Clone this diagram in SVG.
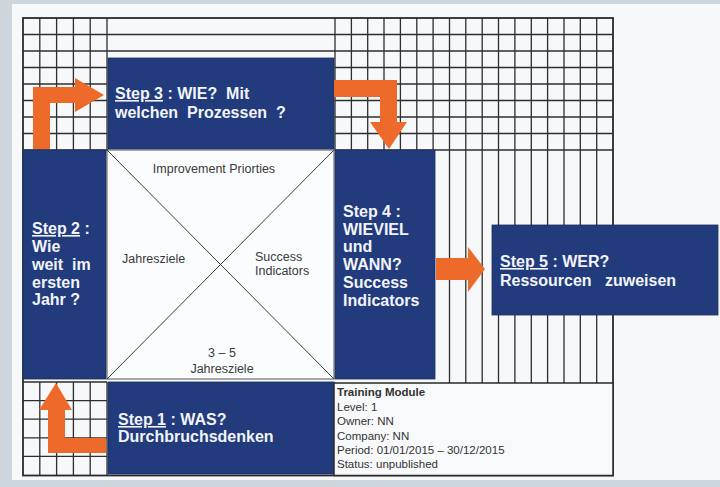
<svg xmlns="http://www.w3.org/2000/svg" width="720" height="487" viewBox="0 0 720 487">
<style>
.grid{fill:none;stroke:#2e2e2e;stroke-width:1.3}
.frame{fill:none;stroke:#2a2a2a;stroke-width:1.8}
.box{fill:#223b7c;stroke:#1a2d60;stroke-width:0.8}
.st{font-family:"Liberation Sans",Arial,sans-serif;font-weight:bold;font-size:16px;fill:#f2f4fa;white-space:pre}
.u{text-decoration:underline}
.lbl{font-family:"Liberation Sans",Arial,sans-serif;font-size:12.5px;fill:#3a3a3a}
.inf{font-family:"Liberation Sans",Arial,sans-serif;font-size:11.5px;fill:#333}
.arrow{fill:#ee6a2a}
</style>
<rect x="0" y="0" width="720" height="487" fill="#cdd6dd"/>
<rect x="12" y="4" width="708" height="476" fill="#f6f8fa"/>

<g id="grid">
  <!-- top-left grid -->
  <path class="grid" d="M23,34.5H107M23,51H107M23,67.5H107M23,84H107M23,100.5H107M23,117H107M23,133.5H107M23,150H107
  M39.8,18V150M56.6,18V150M73.4,18V150M90.2,18V150M107,18V150"/>
  <!-- top-middle rows -->
  <path class="grid" d="M107,34.5H335M107,51H335"/>
  <!-- top-right grid -->
  <path class="grid" d="M335,34.5H613M335,51H613M335,67.5H613M335,84H613M335,100.5H613M335,117H613M335,133.5H613M335,150H613
  M335,18V150M351.4,18V150M367.7,18V150M384,18V150M400.4,18V150M416.8,18V150M433.1,18V150M449.5,18V383M465.8,18V383M482.2,18V383M498.5,18V383M514.9,18V383M531.3,18V383M547.6,18V383M564,18V383M580.3,18V383M596.7,18V383"/>
  <!-- bottom-left grid -->
  <path class="grid" d="M23,382H107M23,400.6H107M23,419.2H107M23,437.8H107M23,456.4H107
  M39.8,382V475M56.6,382V475M73.4,382V475M90.2,382V475M107,382V475"/>
  <rect class="frame" x="23" y="18" width="590" height="457.5"/>
</g>

<g id="step3">
  <rect class="box" x="108" y="58" width="226" height="91"/>
  <text class="st" x="115" y="99"><tspan class="u">Step 3</tspan> : WIE?  Mit</text>
  <text class="st" x="115" y="118">welchen  Prozessen  ?</text>
</g>

<g id="step2">
  <rect class="box" x="23" y="150" width="83" height="229"/>
  <text class="st" x="32" y="234"><tspan class="u">Step 2</tspan> :</text>
  <text class="st" x="32" y="252">Wie</text>
  <text class="st" x="32" y="270">weit  im</text>
  <text class="st" x="32" y="288">ersten</text>
  <text class="st" x="32" y="305">Jahr ?</text>
</g>

<g id="center">
  <rect x="107" y="150" width="227" height="229" fill="#fbfcfd" stroke="#555" stroke-width="1"/>
  <path d="M107,150L334,379M334,150L107,379" stroke="#3c3c3c" stroke-width="1" fill="none"/>
  <text class="lbl" x="214" y="173" text-anchor="middle">Improvement Priorties</text>
  <text class="lbl" x="122" y="263">Jahresziele</text>
  <text class="lbl" x="255" y="261">Success</text>
  <text class="lbl" x="255" y="275">Indicators</text>
  <text class="lbl" x="222" y="357" text-anchor="middle">3 – 5</text>
  <text class="lbl" x="222" y="373" text-anchor="middle">Jahresziele</text>
</g>

<g id="step4">
  <rect class="box" x="335" y="150" width="100" height="229"/>
  <text class="st" x="343" y="217">Step 4 :</text>
  <text class="st" x="343" y="235">WIEVIEL</text>
  <text class="st" x="343" y="252">und</text>
  <text class="st" x="343" y="270">WANN?</text>
  <text class="st" x="343" y="288">Success</text>
  <text class="st" x="343" y="306">Indicators</text>
</g>

<g id="step5">
  <rect class="box" x="492" y="225" width="226" height="90"/>
  <text class="st" x="500" y="267"><tspan class="u">Step 5</tspan> : WER?</text>
  <text class="st" x="500" y="286">Ressourcen   zuweisen</text>
</g>

<g id="step1">
  <rect class="box" x="108" y="382" width="226" height="92"/>
  <text class="st" x="118" y="425"><tspan class="u">Step 1</tspan> : WAS?</text>
  <text class="st" x="118" y="442">Durchbruchsdenken</text>
</g>

<g id="info">
  <rect x="334" y="383" width="279" height="92.5" fill="#f8f9fb" stroke="#2a2a2a" stroke-width="1.5"/>
  <text class="inf" x="337" y="396" font-weight="bold" font-size="12">Training Module</text>
  <text class="inf" x="337" y="411">Level: 1</text>
  <text class="inf" x="337" y="425">Owner: NN</text>
  <text class="inf" x="337" y="440">Company: NN</text>
  <text class="inf" x="337" y="454">Period: 01/01/2015 – 30/12/2015</text>
  <text class="inf" x="337" y="468">Status: unpublished</text>
</g>

<g id="connectors">
  <polygon class="arrow" points="33,149 33,87 75,87 75,78 104,95 75,112 75,103 50,103 50,149"/>
  <polygon class="arrow" points="334,80 397,80 397,122 407,122 389,149 370,122 380,122 380,97 334,97"/>
  <polygon class="arrow" points="436,258 468,258 468,247 485,269 468,292 468,280 436,280"/>
  <polygon class="arrow" points="106,438 65,438 65,410 72,410 56,383 39,410 48,410 48,453 106,453"/>
</g>
</svg>
